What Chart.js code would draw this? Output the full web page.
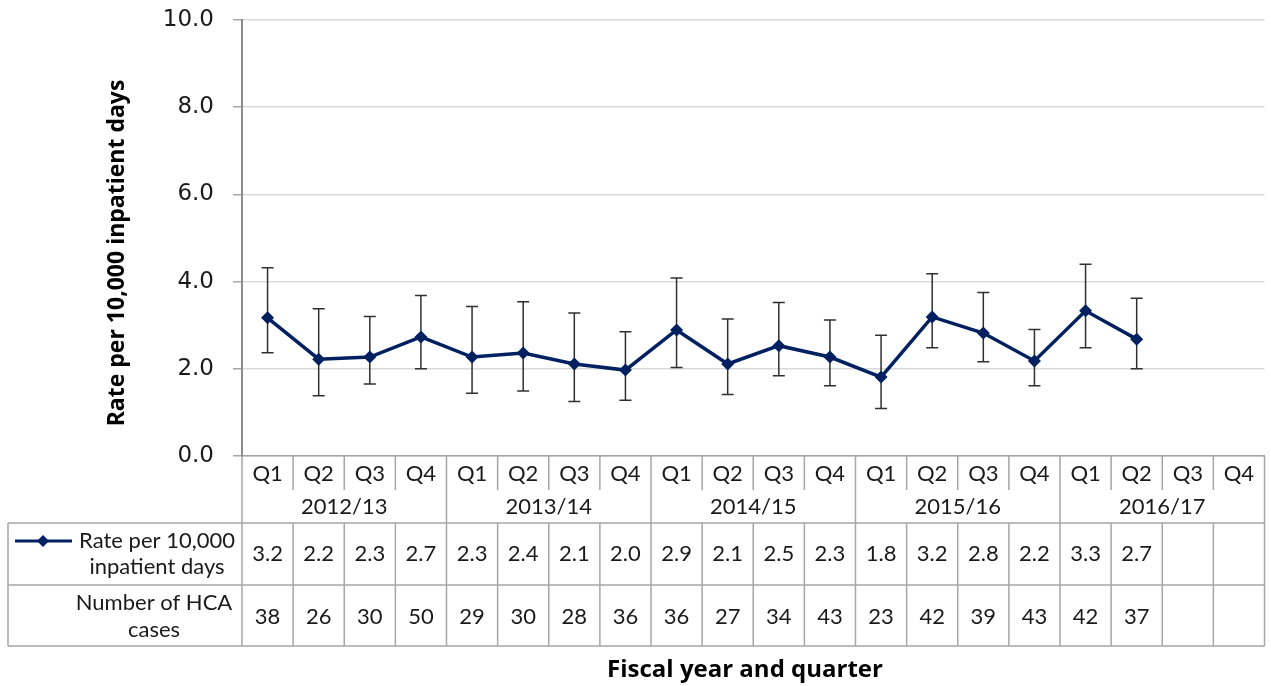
<!DOCTYPE html>
<html>
<head>
<meta charset="utf-8">
<script src="https://cdn.jsdelivr.net/npm/chart.js@4/dist/chart.umd.min.js"></script>
<style>
  body { margin: 0; background: #fff; }
  #wrap { width: 1271px; height: 686px; }
</style>
</head>
<body>
<div id="wrap"><canvas id="hcaChart" width="1271" height="686"></canvas></div>
<script>
/* HCA rate chart with data table */
const quarters = ['Q1', 'Q2', 'Q3', 'Q4', 'Q1', 'Q2', 'Q3', 'Q4', 'Q1', 'Q2', 'Q3', 'Q4',
                  'Q1', 'Q2', 'Q3', 'Q4', 'Q1', 'Q2', 'Q3', 'Q4'];
const fiscalYears = ['2012/13', '2013/14', '2014/15', '2015/16', '2016/17'];
const rate = [3.17, 2.22, 2.27, 2.73, 2.27, 2.36, 2.11, 1.97, 2.89, 2.11, 2.53, 2.27,
              1.81, 3.19, 2.82, 2.18, 3.33, 2.68, null, null];
const upper = [4.32, 3.38, 3.20, 3.68, 3.43, 3.54, 3.28, 2.85, 4.08, 3.14, 3.52, 3.12,
               2.77, 4.18, 3.75, 2.90, 4.40, 3.62, null, null];
const lower = [2.37, 1.38, 1.65, 2.00, 1.44, 1.49, 1.25, 1.28, 2.03, 1.41, 1.84, 1.61,
               1.09, 2.48, 2.16, 1.61, 2.48, 2.00, null, null];
const cases = [38, 26, 30, 50, 29, 30, 28, 36, 36, 27, 34, 43, 23, 42, 39, 43, 42, 37, null, null];
const yTicks = [0, 2, 4, 6, 8, 10];

const NAVY = '#002060';
const TABLE_LINE = '#a6a6a6';
const TEXT = '#1a1a1a';
const TABLE_FONT = '22px Lato';

// error bars drawn under the line
const errorBars = {
    id: 'errorBars',
    beforeDatasetsDraw(chart) {
        const { ctx, scales: { x, y } } = chart;
        ctx.save();
        ctx.strokeStyle = '#303030';
        ctx.lineWidth = 1.5;
        upper.forEach((u, i) => {
            if (u == null) return;
            const px = x.getPixelForValue(i);
            const yu = y.getPixelForValue(u);
            const yl = y.getPixelForValue(lower[i]);
            ctx.beginPath();
            ctx.moveTo(px, yu); ctx.lineTo(px, yl);
            ctx.moveTo(px - 6, yu); ctx.lineTo(px + 6, yu);
            ctx.moveTo(px - 6, yl); ctx.lineTo(px + 6, yl);
            ctx.stroke();
        });
        ctx.restore();
    }
};

function diamond(ctx, cx, cy, r) {
    ctx.beginPath();
    ctx.moveTo(cx, cy - r); ctx.lineTo(cx + r, cy);
    ctx.lineTo(cx, cy + r); ctx.lineTo(cx - r, cy);
    ctx.closePath();
    ctx.fill();
}

// category axis + data table below the plot, plus the axis titles
const dataTable = {
    id: 'dataTable',
    afterDraw(chart) {
        const { ctx, chartArea: a, scales: { x } } = chart;
        const half = (x.getPixelForValue(1) - x.getPixelForValue(0)) / 2;
        const tableLeft = 8;
        const qBottom = a.bottom + 34;
        const yrBottom = a.bottom + 67;
        const rateBottom = a.bottom + 129;
        const casesBottom = a.bottom + 190;

        ctx.save();
        ctx.strokeStyle = TABLE_LINE;
        ctx.lineWidth = 1.5;
        const line = (x1, y1, x2, y2) => { ctx.beginPath(); ctx.moveTo(x1, y1); ctx.lineTo(x2, y2); ctx.stroke(); };

        line(tableLeft, yrBottom, a.right, yrBottom);
        line(tableLeft, rateBottom, a.right, rateBottom);
        line(tableLeft, casesBottom, a.right, casesBottom);
        line(tableLeft, yrBottom, tableLeft, casesBottom);
        line(a.left, a.bottom, a.left, casesBottom);
        line(a.right, a.bottom, a.right, casesBottom);
        for (let i = 1; i < quarters.length; i++) {
            const bx = x.getPixelForValue(i) - half;
            if (i % 4 === 0) {
                line(bx, a.bottom, bx, casesBottom);
            } else {
                line(bx, a.bottom, bx, qBottom);
                line(bx, yrBottom, bx, casesBottom);
            }
        }

        ctx.fillStyle = TEXT;
        ctx.font = TABLE_FONT;
        ctx.textAlign = 'center';
        ctx.textBaseline = 'middle';
        quarters.forEach((q, i) => {
            const cx = x.getPixelForValue(i);
            ctx.fillText(q, cx, a.bottom + 18);
            if (rate[i] != null) ctx.fillText(rate[i].toFixed(1), cx, (yrBottom + rateBottom) / 2);
            if (cases[i] != null) ctx.fillText(String(cases[i]), cx, (rateBottom + casesBottom) / 2 + 1);
        });
        fiscalYears.forEach((fy, j) => {
            const cx = (x.getPixelForValue(j * 4) + x.getPixelForValue(j * 4 + 3)) / 2;
            ctx.fillText(fy, cx, qBottom + 17);
        });

        // row headers
        ctx.fillText('Rate per 10,000', 157, yrBottom + 18);
        ctx.fillText('inpatient days', 157, yrBottom + 44);
        ctx.fillText('Number of HCA', 154, rateBottom + 18);
        ctx.fillText('cases', 154, rateBottom + 45);

        // legend key
        ctx.strokeStyle = NAVY;
        ctx.lineWidth = 3;
        line(15, yrBottom + 18, 72, yrBottom + 18);
        ctx.fillStyle = NAVY;
        diamond(ctx, 43, yrBottom + 18, 6);

        // axis titles
        ctx.fillStyle = '#000';
        ctx.font = 'bold 24px "Open Sans"';
        ctx.fillText('Fiscal year and quarter', 745, 670);
        ctx.font = 'bold 23px "Open Sans"';
        ctx.translate(117, 253);
        ctx.rotate(-Math.PI / 2);
        ctx.fillText('Rate per 10,000 inpatient days', 0, 0);
        ctx.restore();
    }
};

new Chart(document.getElementById('hcaChart'), {
    type: 'line',
    data: {
        labels: quarters,
        datasets: [{
            label: 'Rate per 10,000 inpatient days',
            data: rate,
            borderColor: NAVY,
            backgroundColor: NAVY,
            borderWidth: 3.5,
            pointStyle: 'rectRot',
            pointRadius: 6.5,
            pointBorderWidth: 0,
            tension: 0,
        }]
    },
    options: {
        responsive: false,
        animation: false,
        layout: { padding: { top: 20, right: 1, bottom: 230, left: 0 } },
        plugins: { legend: { display: false }, tooltip: { enabled: false } },
        scales: {
            x: {
                offset: true,
                ticks: { display: false },
                grid: { display: false },
                border: { color: TABLE_LINE, width: 1.5 },
                afterFit: s => { s.height = 0; }
            },
            y: {
                min: 0,
                max: 10,
                afterBuildTicks: s => { s.ticks = yTicks.map(v => ({ value: v })); },
                afterFit: s => { s.width = 242; s.paddingTop = 0; },
                ticks: {
                    color: TEXT,
                    padding: 19,
                    font: { family: 'DejaVu Sans', size: 23 },
                    callback: v => v.toFixed(1)
                },
                grid: { color: '#d9d9d9', lineWidth: 1.5, tickLength: 9, tickColor: '#a6a6a6' },
                border: { color: '#8c8c8c', width: 2 }
            }
        }
    },
    plugins: [errorBars, dataTable]
});
</script>
</body>
</html>
